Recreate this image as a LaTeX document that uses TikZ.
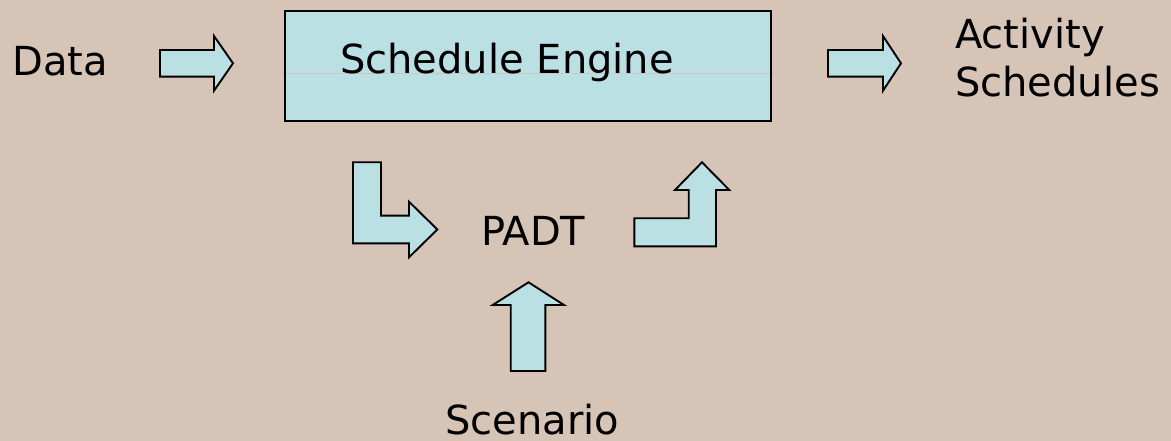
\documentclass[tikz,border=0pt]{standalone}
\usepackage{fontspec}
\setmainfont{DejaVu Sans}
\definecolor{bgtan}{RGB}{214,196,183}
\definecolor{paleblue}{RGB}{186,224,228}
\definecolor{seam}{RGB}{208,196,196}
\begin{document}
\begin{tikzpicture}[x=1pt,y=-1pt,
  lbl/.style={anchor=base west,inner sep=0pt,font=\fontsize{40}{48}\selectfont},
  blockarrow/.style={fill=paleblue,draw=black,line width=1.9pt,line join=miter},
  enginebox/.style={fill=paleblue,draw=black,line width=1.9pt,minimum width=486pt,minimum height=110pt,inner sep=0pt}]
  % canvas
  \fill[bgtan] (0,0) rectangle (1171,441);
  \useasboundingbox (0,0) rectangle (1171,441);

  % engine block
  \node[enginebox] (engine) at (528,66) {};
  \draw[seam,line width=0.6pt] (286,73) -- (770,73);
  \node[lbl] (enginelbl) at (340,74) {Schedule Engine};

  % labels (the two-line label is placed by its last baseline)
  \node[lbl] (data) at (12,76) {Data};
  \node[lbl,align=left] (activity) at (955,96.5) {Activity\\Schedules};
  \node[lbl] (padt) at (481,245.5) {PADT};
  \node[lbl] (scenario) at (445,434) {Scenario};

  % input arrow: data -> engine
  \draw[blockarrow] (160,50) -- (214,50) -- (214,36) -- (233,63.3) -- (214,90.7) -- (214,76.7) -- (160,76.7) -- cycle;
  % output arrow: engine -> schedules
  \draw[blockarrow] (828,50) -- (883,50) -- (883,36) -- (901,63.3) -- (883,90.7) -- (883,76.7) -- (828,76.7) -- cycle;
  % bent arrow: engine -> PADT
  \draw[blockarrow] (353,162.3) -- (381,162.3) -- (381,215.7) -- (409,215.7) -- (409,201.7) -- (437.3,229.5) -- (409,257.3) -- (409,243.3) -- (353,243.3) -- cycle;
  % bent arrow: PADT -> engine
  \draw[blockarrow] (634.3,246.3) -- (634.3,218.3) -- (688.7,218.3) -- (688.7,190) -- (675,190) -- (702,162.3) -- (729.3,190) -- (716,190) -- (716,246.3) -- cycle;
  % upward arrow: scenario -> PADT
  \draw[blockarrow] (510.7,371) -- (510.7,305) -- (492.7,305) -- (528.5,282.3) -- (564,305) -- (545.3,305) -- (545.3,371) -- cycle;
\end{tikzpicture}
\end{document}
